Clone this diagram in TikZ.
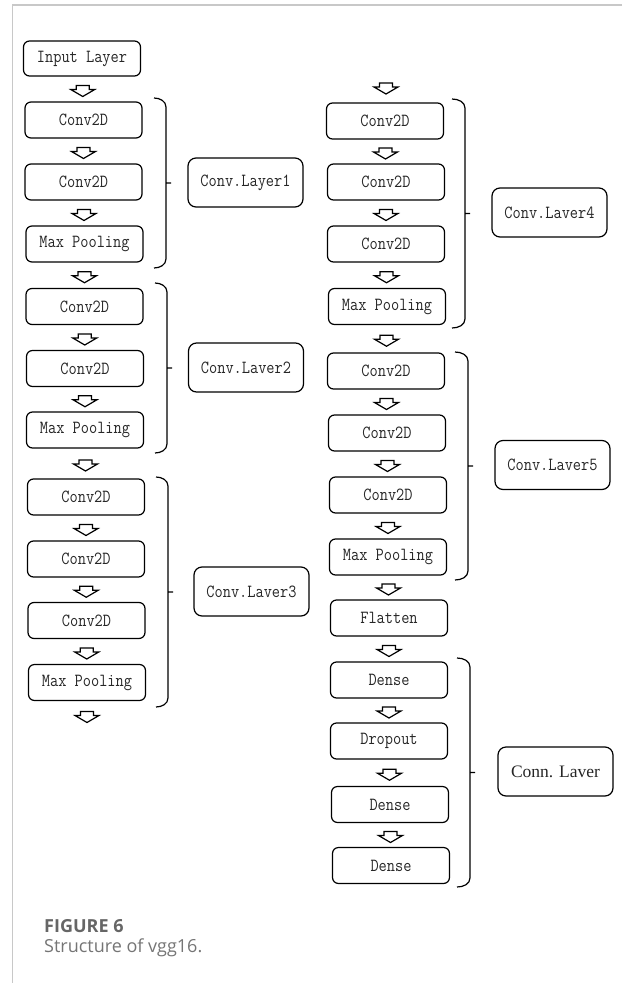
\documentclass[tikz,border=0pt]{standalone}
\usepackage{fontspec}
\setmainfont{Liberation Serif}
\newfontfamily\boxfont[FakeStretch=0.86]{Latin Modern Mono}
\newfontfamily\capfont{Open Sans}
\usetikzlibrary{calc}

\definecolor{framegray}{HTML}{C8C8C8}
\definecolor{capgray}{HTML}{666666}

\tikzset{
  unitbox/.style={draw, line width=1.2pt, rounded corners=6pt, minimum width=117pt,
    minimum height=36pt, inner sep=0pt, text=black!85, font=\boxfont\fontsize{18.5}{20}\selectfont},
  groupbox/.style={unitbox, minimum width=115pt, minimum height=49pt, rounded corners=8pt},
  brc/.style={line width=1.2pt},
  pics/hollowdown/.style={code={
    \draw[line width=1.2pt] (-6.5,-5)--(6.5,-5)--(6.5,-1)--(12,-1)--(0,6)--(-12,-1)--(-6.5,-1)--cycle;}}
}

\begin{document}
\begin{tikzpicture}[x=1pt, y=-1pt]
\useasboundingbox (0,0) rectangle (622,983);
\draw[framegray, line width=1.2pt] (622,5) -- (12.5,5) -- (12.5,983);

\node[unitbox, minimum height=35pt] (in) at (82,58.5) {Input Layer};
\node[unitbox] (c11) at (83.5,120) {Conv2D};
\node[unitbox] (c12) at (83.5,182) {Conv2D};
\node[unitbox] (p1) at (84.5,244) {Max Pooling};
\node[unitbox] (c21) at (84.5,306.5) {Conv2D};
\node[unitbox] (c22) at (85,368.5) {Conv2D};
\node[unitbox] (p2) at (85,430) {Max Pooling};
\node[unitbox] (c31) at (86,497) {Conv2D};
\node[unitbox] (c32) at (86,559) {Conv2D};
\node[unitbox] (c33) at (86.5,620.5) {Conv2D};
\node[unitbox] (p3) at (87,682.5) {Max Pooling};
\coordinate (l3out) at (87,716.5);

\coordinate (r4in) at (386,88);
\node[unitbox] (c41) at (385,121) {Conv2D};
\node[unitbox] (c42) at (386,182) {Conv2D};
\node[unitbox] (c43) at (386,244) {Conv2D};
\node[unitbox] (p4) at (387,306.5) {Max Pooling};
\node[unitbox] (c51) at (386,371) {Conv2D};
\node[unitbox] (c52) at (387,433) {Conv2D};
\node[unitbox] (c53) at (388,495) {Conv2D};
\node[unitbox] (p5) at (388,557) {Max Pooling};
\node[unitbox] (fl) at (389,618) {Flatten};
\node[unitbox] (d1) at (389,680) {Dense};
\node[unitbox] (dr) at (389,741) {Dropout};
\node[unitbox] (d2) at (390,804.5) {Dense};
\node[unitbox] (d3) at (391,865.5) {Dense};

\foreach \a/\b in {in/c11, c11/c12, c12/p1, p1/c21, c21/c22, c22/p2, p2/c31, c31/c32, c32/c33, c33/p3,
    c41/c42, c42/c43, c43/p4, p4/c51, c51/c52, c52/c53, c53/p5, p5/fl, fl/d1, d1/dr, dr/d2, d2/d3}
  \pic at ($(\a.south)!.5!(\b.north)+(0,1.5)$) {hollowdown};
\pic at (l3out) {hollowdown};
\pic at (r4in) {hollowdown};

\node[groupbox] (g1) at (245.5,182.5) {Conv.Layer1};
\node[groupbox] (g2) at (246,367.5) {Conv.Laver2};
\node[groupbox] (g3) at (251.5,591.5) {Conv.Laver3};
\node[groupbox] (g4) at (549.5,212.5) {Conv.Laver4};
\node[groupbox] (g5) at (552.5,465) {Conv.Laver5};
\node[groupbox, font=\fontsize{17.5}{20}\selectfont] (g6) at (555.5,771.5) {Conn. Laver};

\foreach \xa/\xb/\ta/\bo in {154/166/98/268, 155/167/283/453, 156/168/477/707,
    452/465/99/328, 455/468/352/580, 457/470/658/887}
  \draw[brc] (\xa,\ta) to[out=0,in=90] (\xb,\ta+9) -- (\xb,\bo-9) to[out=-90,in=0] (\xa,\bo)
    (\xb,{(\ta+\bo)/2}) -- ++(5,0);

\node[anchor=base west, inner sep=0pt, text=capgray, font=\capfont\bfseries\fontsize{18}{20}\selectfont] (fig) at (44,932) {FIGURE 6};
\node[anchor=base west, inner sep=0pt, text=capgray!90, font=\capfont\fontsize{18}{20}\selectfont] (cap) at (44,952) {Structure of vgg16.};
\end{tikzpicture}
\end{document}
